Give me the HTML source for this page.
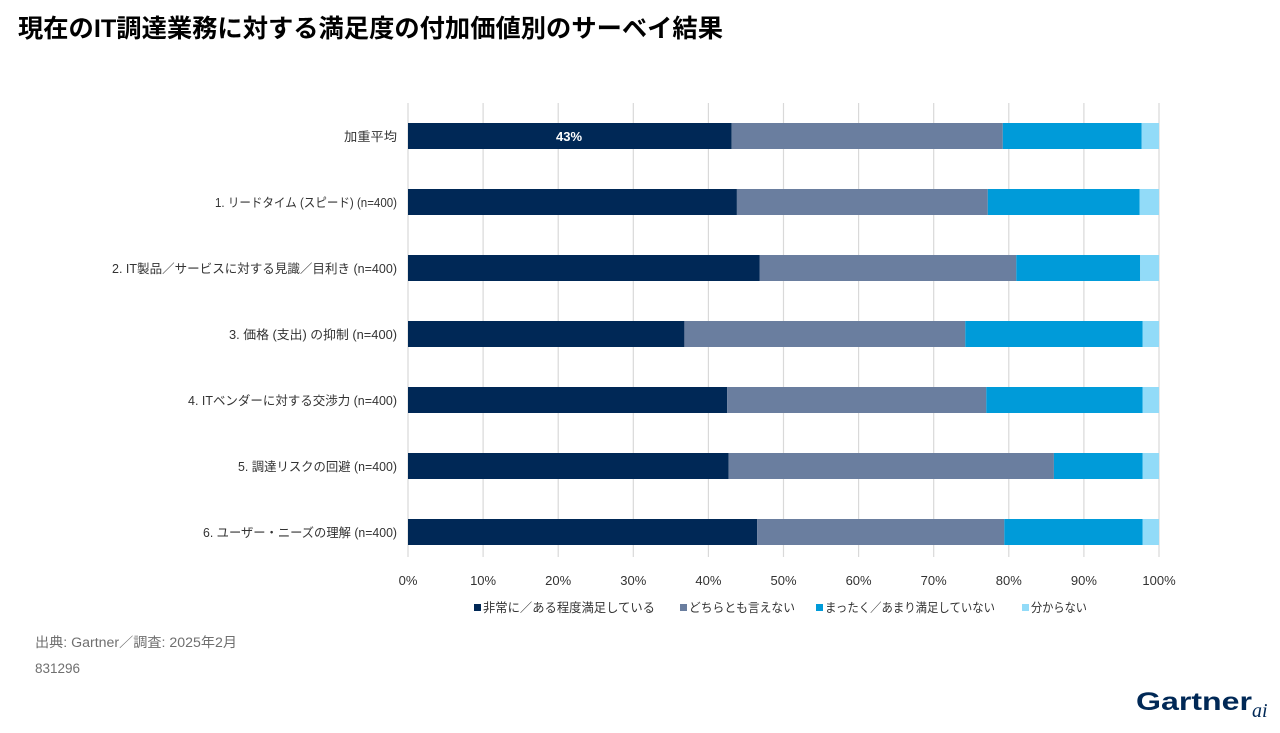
<!DOCTYPE html>
<html><head><meta charset="utf-8">
<style>
html,body{margin:0;padding:0;background:#fff;}
body{width:1280px;height:733px;overflow:hidden;position:relative;font-family:"Liberation Sans","Noto Sans CJK JP",sans-serif;}
svg{position:absolute;left:0;top:0;}
</style></head>
<body>
<svg width="1280" height="733" viewBox="0 0 1280 733" xmlns="http://www.w3.org/2000/svg" font-family="Liberation Sans, Noto Sans CJK JP, sans-serif">
<text x="18" y="37" font-size="25" font-weight="bold" fill="#000" textLength="705" lengthAdjust="spacingAndGlyphs">現在のIT調達業務に対する満足度の付加価値別のサーベイ結果</text>

<g stroke="#d9d9d9" stroke-width="1.2">
<line x1="408" y1="103" x2="408" y2="557"/>
<line x1="483.1" y1="103" x2="483.1" y2="557"/>
<line x1="558.2" y1="103" x2="558.2" y2="557"/>
<line x1="633.3" y1="103" x2="633.3" y2="557"/>
<line x1="708.4" y1="103" x2="708.4" y2="557"/>
<line x1="783.5" y1="103" x2="783.5" y2="557"/>
<line x1="858.6" y1="103" x2="858.6" y2="557"/>
<line x1="933.7" y1="103" x2="933.7" y2="557"/>
<line x1="1008.8" y1="103" x2="1008.8" y2="557"/>
<line x1="1083.9" y1="103" x2="1083.9" y2="557"/>
<line x1="1159" y1="103" x2="1159" y2="557"/>
</g>

<g>
<rect x="408" y="123" width="323.7" height="26" fill="#002856"/>
<rect x="731.7" y="123" width="271.1" height="26" fill="#6a7e9f"/>
<rect x="1002.8" y="123" width="138.9" height="26" fill="#009bd9"/>
<rect x="1141.7" y="123" width="17.3" height="26" fill="#92dbf8"/>

<rect x="408" y="189" width="328.9" height="26" fill="#002856"/>
<rect x="736.9" y="189" width="250.9" height="26" fill="#6a7e9f"/>
<rect x="987.8" y="189" width="151.7" height="26" fill="#009bd9"/>
<rect x="1139.5" y="189" width="19.5" height="26" fill="#92dbf8"/>

<rect x="408" y="255" width="351.5" height="26" fill="#002856"/>
<rect x="759.5" y="255" width="256.8" height="26" fill="#6a7e9f"/>
<rect x="1016.3" y="255" width="123.9" height="26" fill="#009bd9"/>
<rect x="1140.2" y="255" width="18.8" height="26" fill="#92dbf8"/>

<rect x="408" y="321" width="276.4" height="26" fill="#002856"/>
<rect x="684.4" y="321" width="280.9" height="26" fill="#6a7e9f"/>
<rect x="965.3" y="321" width="177.2" height="26" fill="#009bd9"/>
<rect x="1142.5" y="321" width="16.5" height="26" fill="#92dbf8"/>

<rect x="408" y="387" width="319.2" height="26" fill="#002856"/>
<rect x="727.2" y="387" width="259.1" height="26" fill="#6a7e9f"/>
<rect x="986.3" y="387" width="156.2" height="26" fill="#009bd9"/>
<rect x="1142.5" y="387" width="16.5" height="26" fill="#92dbf8"/>

<rect x="408" y="453" width="320.7" height="26" fill="#002856"/>
<rect x="728.7" y="453" width="325.2" height="26" fill="#6a7e9f"/>
<rect x="1053.9" y="453" width="88.6" height="26" fill="#009bd9"/>
<rect x="1142.5" y="453" width="16.5" height="26" fill="#92dbf8"/>

<rect x="408" y="519" width="349.2" height="26" fill="#002856"/>
<rect x="757.2" y="519" width="247.1" height="26" fill="#6a7e9f"/>
<rect x="1004.3" y="519" width="138.2" height="26" fill="#009bd9"/>
<rect x="1142.5" y="519" width="16.5" height="26" fill="#92dbf8"/>
</g>

<text x="569" y="141" font-size="13" font-weight="bold" fill="#fff" text-anchor="middle">43%</text>

<g font-size="12.5" fill="#333">
<text x="344" y="141" textLength="53" lengthAdjust="spacingAndGlyphs">加重平均</text>
<text x="215" y="207" textLength="182" lengthAdjust="spacingAndGlyphs">1. リードタイム (スピード) (n=400)</text>
<text x="112" y="273" textLength="285" lengthAdjust="spacingAndGlyphs">2. IT製品／サービスに対する見識／目利き (n=400)</text>
<text x="229" y="339" textLength="168" lengthAdjust="spacingAndGlyphs">3. 価格 (支出) の抑制 (n=400)</text>
<text x="188" y="405" textLength="209" lengthAdjust="spacingAndGlyphs">4. ITベンダーに対する交渉力 (n=400)</text>
<text x="238" y="471" textLength="159" lengthAdjust="spacingAndGlyphs">5. 調達リスクの回避 (n=400)</text>
<text x="203" y="537" textLength="194" lengthAdjust="spacingAndGlyphs">6. ユーザー・ニーズの理解 (n=400)</text>
</g>

<g font-size="13" fill="#333" text-anchor="middle">
<text x="408" y="585">0%</text>
<text x="483.1" y="585">10%</text>
<text x="558.2" y="585">20%</text>
<text x="633.3" y="585">30%</text>
<text x="708.4" y="585">40%</text>
<text x="783.5" y="585">50%</text>
<text x="858.6" y="585">60%</text>
<text x="933.7" y="585">70%</text>
<text x="1008.8" y="585">80%</text>
<text x="1083.9" y="585">90%</text>
<text x="1159" y="585">100%</text>
</g>

<g font-size="12.5" fill="#333">
<rect x="474" y="604" width="7" height="7" fill="#002856"/>
<text x="483" y="612" textLength="172" lengthAdjust="spacingAndGlyphs">非常に／ある程度満足している</text>
<rect x="680" y="604" width="7" height="7" fill="#6a7e9f"/>
<text x="689" y="612" textLength="106" lengthAdjust="spacingAndGlyphs">どちらとも言えない</text>
<rect x="816" y="604" width="7" height="7" fill="#009bd9"/>
<text x="825" y="612" textLength="170" lengthAdjust="spacingAndGlyphs">まったく／あまり満足していない</text>
<rect x="1022" y="604" width="7" height="7" fill="#92dbf8"/>
<text x="1031" y="612" textLength="56" lengthAdjust="spacingAndGlyphs">分からない</text>
</g>

<text x="35" y="647" font-size="13.5" fill="#6f6f6f" textLength="202" lengthAdjust="spacingAndGlyphs">出典: Gartner／調査: 2025年2月</text>
<text x="35" y="673" font-size="13.5" fill="#6f6f6f">831296</text>

<text x="1136" y="710" font-size="25" font-weight="bold" fill="#002856" textLength="116" lengthAdjust="spacingAndGlyphs">Gartner</text>
<text x="1252" y="717" font-size="20" font-style="italic" font-family="Liberation Serif, serif" fill="#002856">ai</text>
</svg>
</body></html>
